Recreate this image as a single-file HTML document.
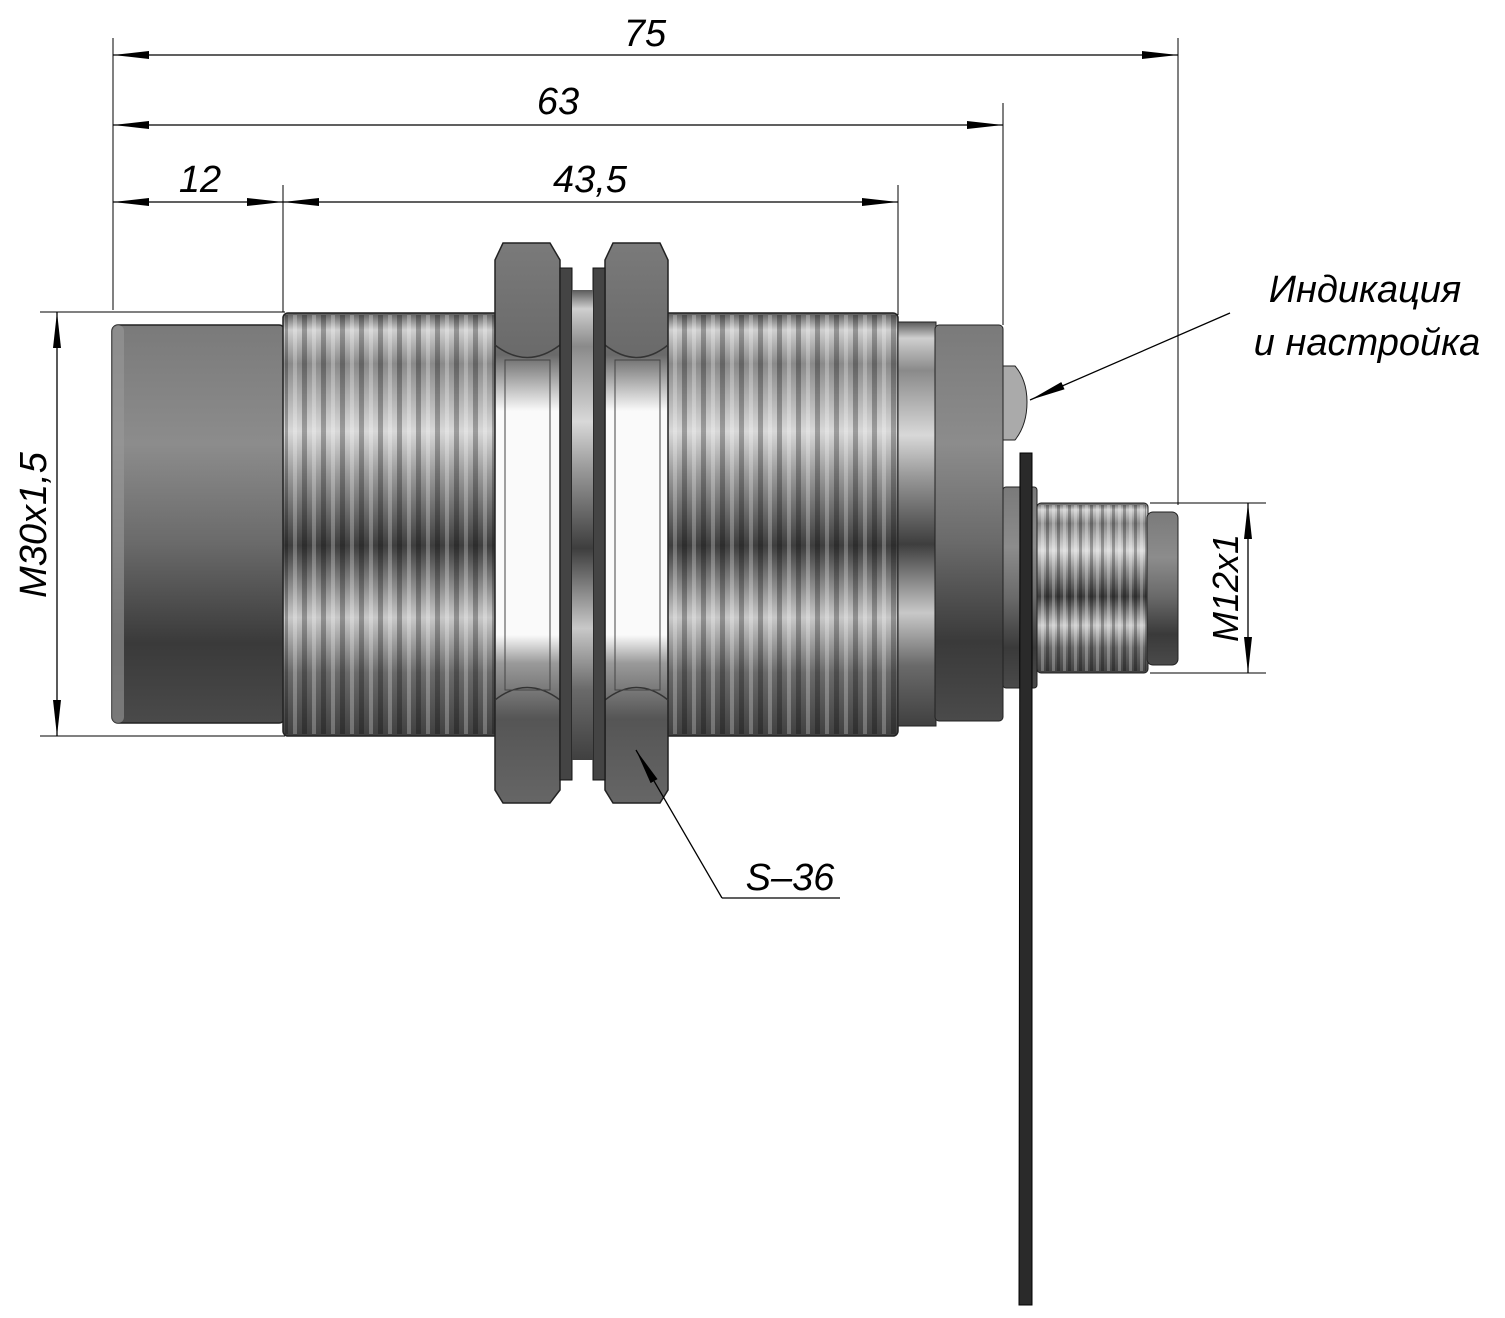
<!DOCTYPE html>
<html><head><meta charset="utf-8"><style>
html,body{margin:0;padding:0;background:#fff;}
svg{display:block;}
text{font-family:"Liberation Sans","DejaVu Sans",sans-serif;font-style:italic;fill:#000;}
</style></head><body>
<svg width="1505" height="1318" viewBox="0 0 1505 1318" xmlns="http://www.w3.org/2000/svg">
<defs>
<linearGradient id="body" x1="0" y1="0" x2="0" y2="1">
<stop offset="0" stop-color="#5a5a5a"/>
<stop offset="0.04" stop-color="#cfcfcf"/>
<stop offset="0.12" stop-color="#8a8a8a"/>
<stop offset="0.28" stop-color="#d8d8d8"/>
<stop offset="0.38" stop-color="#9a9a9a"/>
<stop offset="0.55" stop-color="#3e3e3e"/>
<stop offset="0.72" stop-color="#c8c8c8"/>
<stop offset="0.85" stop-color="#6a6a6a"/>
<stop offset="1" stop-color="#404040"/>
</linearGradient>
<linearGradient id="cap" x1="0" y1="0" x2="0" y2="1">
<stop offset="0" stop-color="#7a7a7a"/>
<stop offset="0.3" stop-color="#8c8c8c"/>
<stop offset="0.55" stop-color="#6a6a6a"/>
<stop offset="0.8" stop-color="#3a3a3a"/>
<stop offset="1" stop-color="#4a4a4a"/>
</linearGradient>
<linearGradient id="nut" x1="0" y1="0" x2="0" y2="1">
<stop offset="0" stop-color="#7a7a7a"/>
<stop offset="0.2" stop-color="#6a6a6a"/>
<stop offset="0.3" stop-color="#fafafa"/>
<stop offset="0.7" stop-color="#fafafa"/>
<stop offset="0.75" stop-color="#9a9a9a"/>
<stop offset="0.85" stop-color="#555"/>
<stop offset="1" stop-color="#666"/>
</linearGradient>
<pattern id="thr" x="283" y="0" width="19" height="10" patternUnits="userSpaceOnUse">
<rect x="0" y="0" width="5" height="10" fill="#000" opacity="0.28"/>
<rect x="10" y="0" width="4" height="10" fill="#fff" opacity="0.25"/>
</pattern>
<pattern id="thr2" x="1035" y="0" width="11" height="10" patternUnits="userSpaceOnUse">
<rect x="0" y="0" width="3" height="10" fill="#000" opacity="0.28"/>
<rect x="6" y="0" width="3" height="10" fill="#fff" opacity="0.25"/>
</pattern>
<marker id="ar" markerWidth="36" markerHeight="10" refX="36" refY="5" orient="auto" markerUnits="userSpaceOnUse">
<path d="M0,1 L36,5 L0,9 Z" fill="#000"/>
</marker>
<marker id="as" markerWidth="36" markerHeight="10" refX="0" refY="5" orient="auto" markerUnits="userSpaceOnUse">
<path d="M36,1 L0,5 L36,9 Z" fill="#000"/>
</marker>
</defs>

<g stroke="#000" stroke-width="1" fill="none">
<line x1="113" y1="38" x2="113" y2="310"/>
<line x1="283" y1="185" x2="283" y2="312"/>
<line x1="898" y1="185" x2="898" y2="315"/>
<line x1="1003" y1="103" x2="1003" y2="325"/>
<line x1="1178" y1="38" x2="1178" y2="505"/>
<line x1="40" y1="312" x2="285" y2="312"/>
<line x1="40" y1="736" x2="285" y2="736"/>
<line x1="1150" y1="503" x2="1266" y2="503"/>
<line x1="1150" y1="673" x2="1266" y2="673"/>
</g>
<g stroke="#000" stroke-width="1.3" fill="none">
<line x1="113" y1="55" x2="1178" y2="55" marker-start="url(#as)" marker-end="url(#ar)"/>
<line x1="113" y1="125" x2="1003" y2="125" marker-start="url(#as)" marker-end="url(#ar)"/>
<line x1="113" y1="202" x2="283" y2="202" marker-start="url(#as)" marker-end="url(#ar)"/>
<line x1="283" y1="202" x2="898" y2="202" marker-start="url(#as)" marker-end="url(#ar)"/>
<line x1="57" y1="312" x2="57" y2="736" marker-start="url(#as)" marker-end="url(#ar)"/>
<line x1="1248" y1="503" x2="1248" y2="673" marker-start="url(#as)" marker-end="url(#ar)"/>
<line x1="722" y1="898" x2="840" y2="898"/>
</g>
<text x="645" y="46" font-size="38" text-anchor="middle">75</text>
<text x="558" y="114" font-size="38" text-anchor="middle">63</text>
<text x="200" y="192" font-size="38" text-anchor="middle">12</text>
<text x="590" y="192" font-size="38" text-anchor="middle">43,5</text>
<text x="0" y="0" font-size="38" text-anchor="middle" transform="translate(46,525) rotate(-90)">M30x1,5</text>
<text x="0" y="0" font-size="36" text-anchor="middle" transform="translate(1238,588) rotate(-90)">M12x1</text>
<text x="1365" y="302" font-size="38" text-anchor="middle">Индикация</text>
<text x="1367" y="355" font-size="38" text-anchor="middle">и настройка</text>
<text x="790" y="890" font-size="38" text-anchor="middle">S–36</text>

<rect x="112" y="325" width="173" height="398" rx="6" fill="url(#cap)" stroke="#222" stroke-width="1.5"/>
<rect x="112" y="325" width="12" height="398" rx="6" fill="#9a9a9a" opacity="0.6"/>
<rect x="283" y="313" width="615" height="423" rx="5" fill="url(#body)" stroke="#222" stroke-width="1.5"/>
<rect x="285" y="315" width="611" height="419" fill="url(#thr)"/>
<rect x="898" y="322" width="38" height="404" fill="url(#body)" stroke="#222"/>
<rect x="935" y="325" width="68" height="396" rx="4" fill="url(#cap)" stroke="#222"/>
<path d="M503,243 L550,243 L560,260 L560,790 L550,803 L503,803 L495,790 L495,260 Z" fill="url(#nut)" stroke="#222" stroke-width="1.5"/>
<path d="M613,243 L660,243 L668,260 L668,790 L660,803 L613,803 L605,790 L605,260 Z" fill="url(#nut)" stroke="#222" stroke-width="1.5"/>
<path d="M495,345 Q527,370 560,345 M495,700 Q527,675 560,700 M605,345 Q637,370 668,345 M605,700 Q637,675 668,700" stroke="#333" fill="none" stroke-width="1.5"/>
<rect x="505" y="360" width="45" height="330" fill="none" stroke="#444" stroke-width="1"/>
<rect x="615" y="360" width="45" height="330" fill="none" stroke="#444" stroke-width="1"/>
<rect x="560" y="268" width="12" height="512" fill="#444" stroke="#111"/>
<rect x="593" y="268" width="12" height="512" fill="#444" stroke="#111"/>
<rect x="572" y="290" width="21" height="470" fill="url(#body)"/>
<path d="M1003,366 L1015,366 Q1027,380 1027,402 Q1027,425 1015,440 L1003,440 Z" fill="#aaa" stroke="#222"/>
<rect x="1003" y="487" width="34" height="201" rx="3" fill="url(#cap)" stroke="#222"/>
<rect x="1037" y="503" width="111" height="170" rx="4" fill="url(#body)" stroke="#222"/>
<rect x="1039" y="505" width="107" height="166" fill="url(#thr2)"/>
<rect x="1147" y="512" width="31" height="153" rx="6" fill="url(#cap)" stroke="#222"/>
<path d="M1020,453 L1032,453 L1032,1305 L1019,1305 Z" fill="#2a2a2a" stroke="#000"/>

<g stroke="#000" stroke-width="1.3" fill="none">
<line x1="1230" y1="313" x2="1030" y2="400" marker-end="url(#ar)"/>
<line x1="722" y1="898" x2="636" y2="750" marker-end="url(#ar)"/>
</g>
</svg>
</body></html>
